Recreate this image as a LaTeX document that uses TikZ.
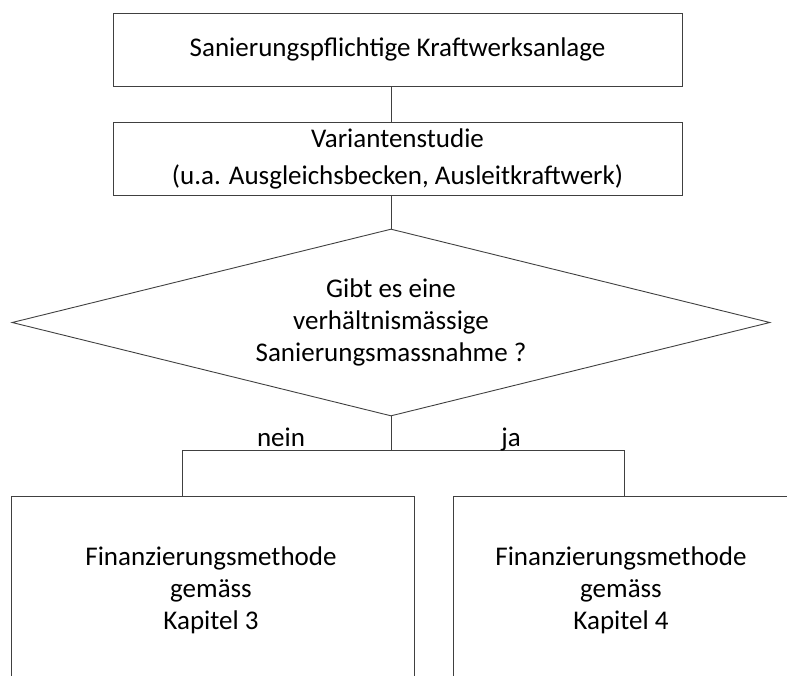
\documentclass[tikz,border=0pt]{standalone}
\usepackage{fontspec}
\setmainfont{Carlito}
\usepackage{tikz}
\usetikzlibrary{shapes.geometric}
\usetikzlibrary{positioning}

\begin{document}
\begin{tikzpicture}[x=1pt, y=-1pt,
    box/.style={rectangle, draw=black!75, line width=0.9pt, inner sep=0pt, font=\fontsize{27}{37}\selectfont, align=center},
    decision/.style={diamond, draw=black!75, line width=0.9pt, aspect=4, inner sep=0pt, minimum width=758pt, minimum height=187pt, font=\fontsize{27}{32}\selectfont, align=center},
    txt/.style={font=\fontsize{27}{32}\selectfont, align=center},
    link/.style={draw=black!75, line width=0.9pt}]
    \useasboundingbox (0,0) rectangle (787,675);
    \clip (0,0) rectangle (787,675);
        \node[box, minimum width=569pt, minimum height=73pt] (anlage) at (397.5,49.5) {Sanierungspflichtige Kraftwerksanlage};
        \node[box, minimum width=569pt, minimum height=73pt] (studie) at (397.5,158.5) {Variantenstudie\\(u.a. Ausgleichsbecken, Ausleitkraftwerk)};
        \node[decision] (frage) at (391,322.5) {Gibt es eine\\verhältnismässige\\Sanierungsmassnahme ?};
        % unten offene Kaesten
        \node[box, minimum width=403pt, minimum height=240pt] (kap3) at (212.5,616) {};
        \node[box, minimum width=347pt, minimum height=240pt] (kap4) at (626.5,616) {};
        \node[txt] (text3) at (211,590) {Finanzierungsmethode\\gemäss\\Kapitel 3};
        \node[txt] (text4) at (621,590) {Finanzierungsmethode\\gemäss\\Kapitel 4};
        \coordinate (split) at (391,450);
        \coordinate (links) at (182,450);
        \coordinate (rechts) at (624,450);
        \path[link]
            (anlage.south -| frage.north) -- (studie.north -| frage.north)
            (studie.south -| frage.north) -- (frage.north)
            (frage.south) -- (split)
            (kap3.north -| links) -- (links) -- (rechts) -- (kap4.north -| rechts);
        \node[txt, anchor=base] (nein) at (281,446) {nein};
        \node[txt, anchor=base] (ja) at (511,446) {ja};
\end{tikzpicture}
\end{document}
